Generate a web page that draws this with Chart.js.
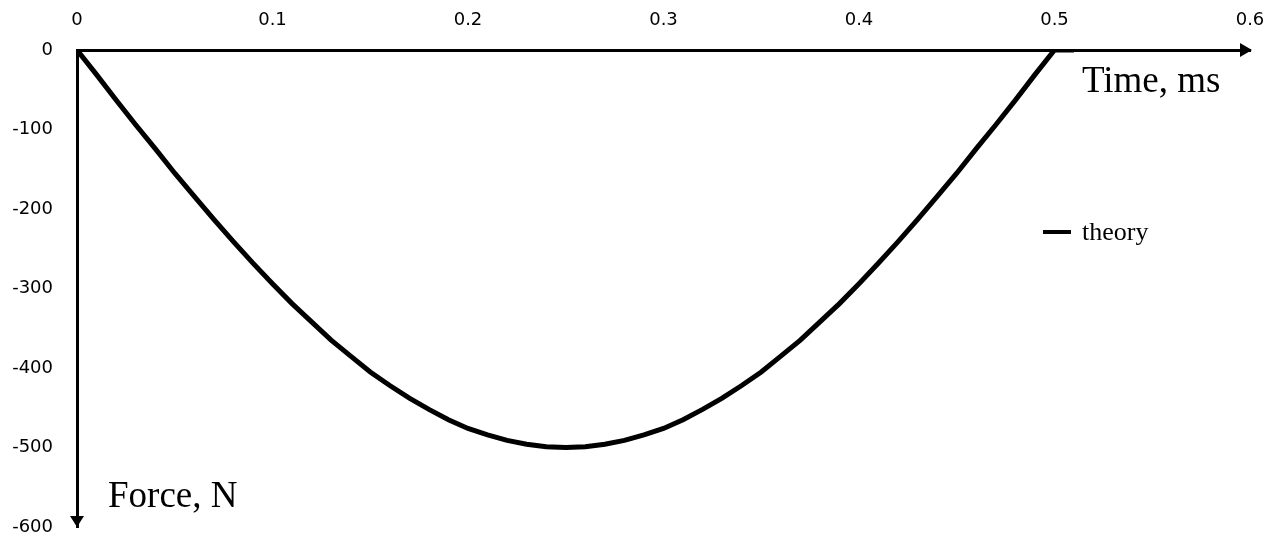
<!DOCTYPE html>
<html>
<head>
<meta charset="utf-8">
<script src="https://cdn.jsdelivr.net/npm/chart.js@4.4.0/dist/chart.umd.min.js"></script>
<style>
  html, body { margin: 0; padding: 0; background: #fff; }
  #wrap { width: 1268px; height: 545px; }
</style>
</head>
<body>
<div id="wrap"><canvas id="forceChart"></canvas></div>
<script>
// time (ms) and force (N)
const timeMs = [0, 0.01, 0.02, 0.03, 0.04, 0.05, 0.06, 0.07, 0.08, 0.09, 0.10,
                0.11, 0.12, 0.13, 0.14, 0.15, 0.16, 0.17, 0.18, 0.19, 0.20,
                0.21, 0.22, 0.23, 0.24, 0.25, 0.26, 0.27, 0.28, 0.29, 0.30,
                0.31, 0.32, 0.33, 0.34, 0.35, 0.36, 0.37, 0.38, 0.39, 0.40,
                0.41, 0.42, 0.43, 0.44, 0.45, 0.46, 0.47, 0.48, 0.49, 0.50, 0.51];
const forceN = [0, -31, -63, -94, -124, -155, -184, -213, -241, -268, -294,
                -319, -342, -365, -385, -405, -422, -438, -452, -465, -476,
                -484, -491, -496, -499, -500, -499, -496, -491, -484, -476,
                -465, -452, -438, -422, -405, -385, -365, -342, -319, -294,
                -268, -241, -213, -184, -155, -124, -94, -63, -31, 0, 0];
const seriesName = 'theory';
const xTitle = 'Time, ms';
const yTitle = 'Force, N';

const points = timeMs.map((t, i) => ({ x: t, y: forceN[i] }));

// arrows, axis titles and the little legend
const decorPlugin = {
    id: 'decor',
    afterDraw(chart) {
        const ctx = chart.ctx;
        const area = chart.chartArea;
        ctx.save();
        ctx.fillStyle = '#000';

        // arrow at right end of time axis
        ctx.beginPath();
        ctx.moveTo(area.right + 2, area.top);
        ctx.lineTo(area.right - 10, area.top - 7);
        ctx.lineTo(area.right - 10, area.top + 7);
        ctx.closePath();
        ctx.fill();

        // arrow at bottom end of force axis
        ctx.beginPath();
        ctx.moveTo(area.left, area.bottom);
        ctx.lineTo(area.left - 7, area.bottom - 11);
        ctx.lineTo(area.left + 7, area.bottom - 11);
        ctx.closePath();
        ctx.fill();

        ctx.font = '37px "Liberation Serif", serif';
        ctx.textBaseline = 'alphabetic';
        ctx.textAlign = 'left';
        ctx.fillText(xTitle, 1082, 92);
        ctx.fillText(yTitle, 108, 507);

        // legend
        ctx.strokeStyle = '#000';
        ctx.lineWidth = 4;
        ctx.beginPath();
        ctx.moveTo(1043, 232);
        ctx.lineTo(1071, 232);
        ctx.stroke();
        ctx.font = '26px "Liberation Serif", serif';
        ctx.fillText(seriesName, 1082, 240);
        ctx.restore();
    }
};

new Chart(document.getElementById('forceChart'), {
    type: 'line',
    data: {
        datasets: [{
            label: seriesName,
            data: points,
            borderColor: '#000',
            borderWidth: 5,
            pointRadius: 0,
            tension: 0,
            fill: false
        }]
    },
    options: {
        responsive: true,
        maintainAspectRatio: false,
        animation: false,
        layout: { padding: { left: 0, right: 18, top: 0, bottom: 18 } },
        plugins: {
            legend: { display: false },
            tooltip: { enabled: false }
        },
        scales: {
            x: {
                type: 'linear',
                position: 'top',
                min: 0,
                max: 0.6,
                grid: { display: false, drawTicks: false },
                border: { display: true, color: '#000', width: 3 },
                ticks: {
                    stepSize: 0.1,
                    padding: 19,
                    color: '#000',
                    font: { family: '"DejaVu Sans", Verdana, sans-serif', size: 18 },
                    callback: v => Math.round(v * 10) / 10
                },
                afterFit: s => {
                    s.height = 50;
                    s.paddingLeft = 0;
                    s.paddingRight = 0;
                }
            },
            y: {
                type: 'linear',
                position: 'left',
                min: -600,
                max: 0,
                grid: { display: false, drawTicks: false },
                border: { display: true, color: '#000', width: 3 },
                ticks: {
                    stepSize: 100,
                    padding: 24,
                    color: '#000',
                    font: { family: '"DejaVu Sans", Verdana, sans-serif', size: 18 }
                },
                afterFit: s => {
                    s.width = 77;
                    s.paddingTop = 0;
                    s.paddingBottom = 0;
                }
            }
        }
    },
    plugins: [decorPlugin]
});
</script>
</body>
</html>
